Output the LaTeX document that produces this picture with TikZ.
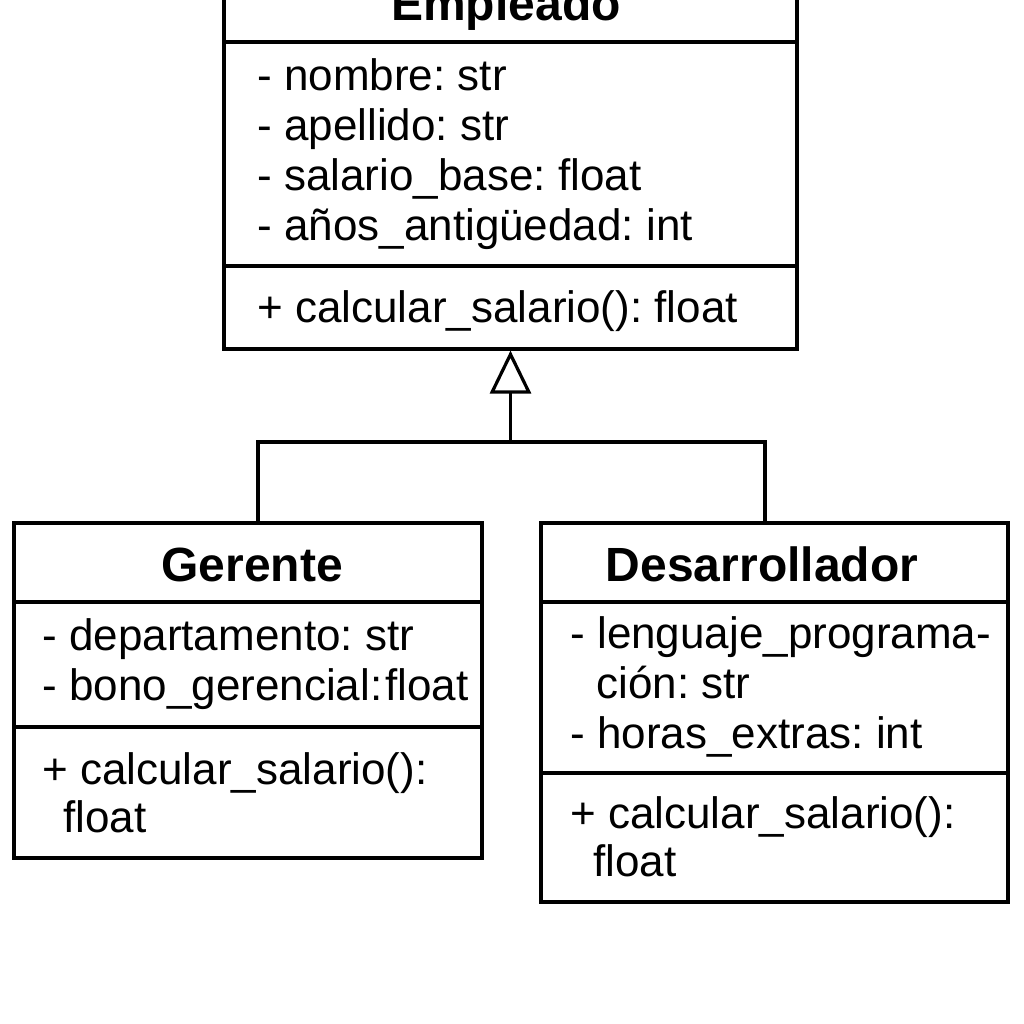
\documentclass[tikz,border=0pt]{standalone}
\usepackage{fontspec}
\setmainfont{Liberation Sans}
\usetikzlibrary{arrows.meta}
\frenchspacing

\tikzset{
  classbox/.style = {draw, line width=1.6pt, inner sep=0pt},
  classname/.style = {anchor=base, inner sep=0pt, font=\fontsize{24pt}{28pt}\selectfont\bfseries},
  member/.style = {anchor=base west, inner sep=0pt, font=\fontsize{22pt}{25pt}\selectfont},
  link/.style = {line width=1.6pt},
}

\begin{document}
\begin{tikzpicture}[x=0.5pt, y=-0.5pt]

\path[use as bounding box, clip] (0,0) rectangle (1024,1024);
\fill[white] (0,0) rectangle (1024,1024);

% Empleado
\node[classbox, minimum width=286.5pt, minimum height=204.5pt] (Empleado) at (510.5,144.5) {};
\draw[link] (224,42) -- (797,42);
\draw[link] (224,266) -- (797,266);
\node[classname] (EmpleadoName) at (506,20) {Empleado};
\node[member] (empNombre) at (257,90) {-~nombre: str};
\node[member] (empApellido) at (257,140) {-~apellido: str};
\node[member] (empSalario) at (257,190) {-~salario\_base: float};
\node[member] (empAnios) at (257,240) {-~años\_antigüedad: int};
\node[member] (empCalcular) at (257,322) {+ calcular\_salario(): float};

% Gerente
\node[classbox, minimum width=234pt, minimum height=167.5pt] (Gerente) at (248,690.5) {};
\draw[link] (14,602) -- (482,602);
\draw[link] (14,727) -- (482,727);
\node[classname] (GerenteName) at (252,581) {Gerente};
\node[member] (gerDepto) at (42,650) {-~departamento: str};
\node[member] (gerBono) at (42,700) {-~bono\_gerencial:\kern1.5pt float};
\node[member] (gerCalcular) at (42,784) {+ calcular\_salario():};
\node[member] (gerFloat) at (63,832) {float};

% Desarrollador
\node[classbox, minimum width=233.5pt, minimum height=189.5pt] (Desarrollador) at (774.5,712.5) {};
\draw[link] (541,602) -- (1008,602);
\draw[link] (541,773) -- (1008,773);
\node[classname] (DesarrolladorName) at (762,581) {Desarrollador};
\node[member] (desLenguaje) at (570,648) {-~lenguaje\_programa-};
\node[member] (desLenguajeB) at (596,698) {ción: str};
\node[member] (desHoras) at (570,748) {-~horas\_extras: int};
\node[member] (desCalcular) at (570,828) {+ calcular\_salario():};
\node[member] (desFloat) at (593,876) {float};

% herencia
\coordinate (join) at (510.5,442);
\draw[link, -{Triangle[open, length=21.5pt, width=20.5pt]}] (join) -- (Empleado.south);
\draw[link] ([xshift=5pt]Gerente.north) |- (join) -| ([xshift=-4.75pt]Desarrollador.north);

\end{tikzpicture}
\end{document}
